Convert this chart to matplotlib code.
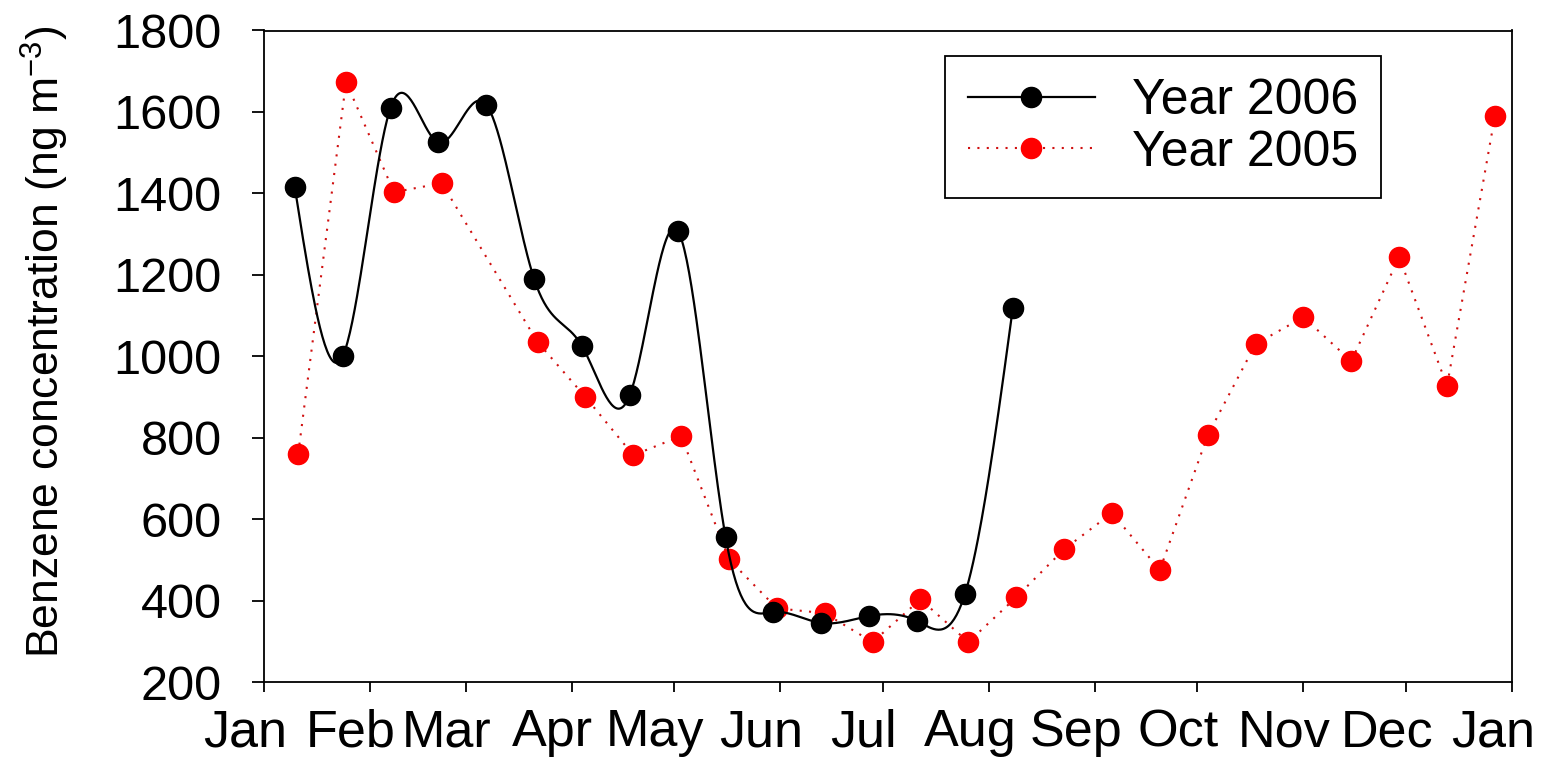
import numpy as np
import matplotlib
matplotlib.use("Agg")
import matplotlib.pyplot as plt
import matplotlib.transforms as mtransforms

plt.rcParams['font.family'] = ['Liberation Sans', 'DejaVu Sans']
plt.rcParams['mathtext.default'] = 'regular'

# ---- data ----
month_labels = ["Jan", "Feb", "Mar", "Apr", "May", "Jun", "Jul", "Aug",
                "Sep", "Oct", "Nov", "Dec", "Jan"]
month_start_day = [0, 31, 59, 90, 120, 151, 181, 212, 243, 273, 304, 334, 365]

day_2006 = [9, 23, 37, 51, 65, 79, 93, 107, 121, 135, 149, 163, 177, 191, 205, 219]
benz_2006 = [1415, 1000, 1610, 1525, 1618, 1190, 1025, 905, 1308, 556,
             372, 345, 362, 350, 416, 1118]

day_2005 = [10, 24, 38, 52, 80, 94, 108, 122, 136, 150, 164, 178, 192, 206,
            220, 234, 248, 262, 276, 290, 304, 318, 332, 346, 360]
benz_2005 = [760, 1674, 1403, 1425, 1035, 900, 757, 804, 501, 381, 369, 298,
             403, 298, 408, 526, 615, 475, 806, 1030, 1096, 988, 1244, 927, 1590]


def natural_cubic_spline(x, y, xs):
    x = np.asarray(x, float)
    y = np.asarray(y, float)
    n = len(x)
    h = np.diff(x)
    A = np.zeros((n, n))
    b = np.zeros(n)
    A[0, 0] = 1.0
    A[-1, -1] = 1.0
    for i in range(1, n - 1):
        A[i, i - 1] = h[i - 1]
        A[i, i] = 2 * (h[i - 1] + h[i])
        A[i, i + 1] = h[i]
        b[i] = 6 * ((y[i + 1] - y[i]) / h[i] - (y[i] - y[i - 1]) / h[i - 1])
    M = np.linalg.solve(A, b)
    idx = np.clip(np.searchsorted(x, xs) - 1, 0, n - 2)
    x0, x1 = x[idx], x[idx + 1]
    y0, y1 = y[idx], y[idx + 1]
    M0, M1 = M[idx], M[idx + 1]
    hh = x1 - x0
    t0 = x1 - xs
    t1 = xs - x0
    return (M0 * t0 ** 3 / (6 * hh) + M1 * t1 ** 3 / (6 * hh)
            + (y0 / hh - M0 * hh / 6) * t0 + (y1 / hh - M1 * hh / 6) * t1)


W, H = 1546, 759
fig = plt.figure(figsize=(W / 100, H / 100), dpi=100)
ax = fig.add_axes([264 / W, 1 - 682 / H, (1512 - 264) / W, (682 - 30.5) / H])

DOT = (0, (1, 3.5))

# 2006: smooth spline line + markers
xs = np.linspace(day_2006[0], day_2006[-1], 600)
ax.plot(xs, natural_cubic_spline(day_2006, benz_2006, xs), color='black',
        lw=1.6, zorder=3)
ax.plot(day_2006, benz_2006, linestyle='none', marker='o', ms=14.5,
        color='black', zorder=4)

# 2005: dotted red line + markers
ax.plot(day_2005, benz_2005, linestyle=DOT, lw=1.5, color='#d01010',
        marker='o', ms=14.5, mfc='red', mec='red', zorder=2)

ax.set_xlim(0, 365)
ax.set_ylim(200, 1800)
ax.set_xticks(month_start_day)
ax.set_xticklabels(month_labels, fontsize=37.5)
ax.set_yticks(np.arange(200, 1801, 200))
ax.tick_params(axis='y', direction='out', length=8.5, width=1.3, pad=22,
               labelsize=35)
ax.tick_params(axis='x', direction='out', length=7, width=1.3, pad=12)
offset = mtransforms.ScaledTranslation(-19 / 100, 0, fig.dpi_scale_trans)
for lbl in ax.get_xticklabels():
    lbl.set_transform(lbl.get_transform() + offset)
for sp in ax.spines.values():
    sp.set_linewidth(1.3)

fig.text(45 / W, 1 - 342 / H, "Benzene concentration (ng m$^{-3}$)",
         rotation=90, ha='center', va='center', fontsize=32)

# legend
h1, = ax.plot([], [], color='black', lw=1.6, marker='o', ms=14.5)
h2, = ax.plot([], [], linestyle=DOT, lw=1.5, color='#d01010',
              marker='o', ms=14.5, mfc='red', mec='red')
leg = ax.legend([h1, h2], ["Year 2006", "Year 2005"], loc='upper left',
                bbox_to_anchor=(945 / W, 1 - 56 / H),
                bbox_transform=fig.transFigure, fontsize=36, numpoints=1,
                handlelength=2.55, handletextpad=0.74, borderpad=0.45,
                labelspacing=0.1, borderaxespad=0, fancybox=False,
                framealpha=1, edgecolor='black')
leg.get_frame().set_linewidth(1.3)

fig.savefig("out.png", dpi=100)
